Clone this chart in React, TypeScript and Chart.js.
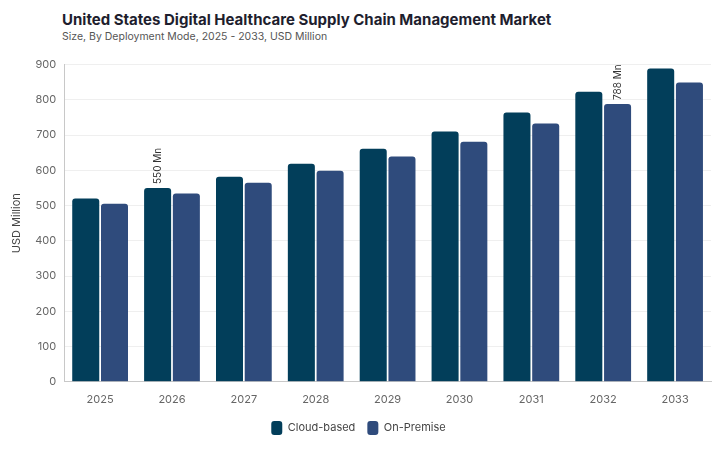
import React, { useEffect, useRef } from 'react';
import { Chart, registerables, Plugin } from 'chart.js';

Chart.register(...registerables);

const years = ['2025', '2026', '2027', '2028', '2029', '2030', '2031', '2032', '2033'];
const cloudBased = [520, 550, 582, 619, 661, 710, 764, 823, 889];
const onPremise = [505, 534, 565, 599, 639, 681, 733, 788, 849];
// which bars carry a value label: [datasetIndex, index]
const labelled: [number, number][] = [
  [0, 1],
  [1, 7],
];

const FONT = 'Inter, "DejaVu Sans", sans-serif';

const barLabels: Plugin<'bar'> = {
  id: 'barLabels',
  afterDatasetsDraw(chart) {
    const ctx = chart.ctx;
    labelled.forEach(([ds, i]) => {
      const bar: any = chart.getDatasetMeta(ds).data[i];
      if (!bar) return;
      const value = chart.data.datasets[ds].data[i] as number;
      ctx.save();
      ctx.translate(bar.x, bar.y - 4);
      ctx.rotate(-Math.PI / 2);
      ctx.font = `10px ${FONT}`;
      ctx.fillStyle = '#333';
      ctx.textAlign = 'left';
      ctx.textBaseline = 'middle';
      ctx.fillText(`${value} Mn`, 0, 0);
      ctx.restore();
    });
  },
};

const App: React.FC = () => {
  const canvasRef = useRef<HTMLCanvasElement | null>(null);

  useEffect(() => {
    const canvas = canvasRef.current;
    if (!canvas) return;

    const chart = new Chart(canvas, {
      type: 'bar',
      data: {
        labels: years,
        datasets: [
          {
            label: 'Cloud-based',
            data: cloudBased,
            backgroundColor: '#023e5a',
            borderRadius: { topLeft: 3, topRight: 3 },
            borderSkipped: 'bottom',
            categoryPercentage: 0.8,
            barPercentage: 0.94,
          },
          {
            label: 'On-Premise',
            data: onPremise,
            backgroundColor: '#2f4b7c',
            borderRadius: { topLeft: 3, topRight: 3 },
            borderSkipped: 'bottom',
            categoryPercentage: 0.8,
            barPercentage: 0.94,
          },
        ],
      },
      options: {
        animation: false,
        responsive: true,
        maintainAspectRatio: false,
        layout: { padding: { top: 8, right: 8, left: 6, bottom: 4 } },
        plugins: {
          tooltip: { enabled: false },
          legend: {
            position: 'bottom',
            labels: {
              boxWidth: 11,
              boxHeight: 14,
              useBorderRadius: true,
              borderRadius: 3,
              padding: 12,
              color: '#444',
              font: { family: FONT, size: 11 },
            },
          },
        },
        scales: {
          x: {
            grid: { display: false },
            border: { color: '#c8c8c8' },
            ticks: { color: '#666', font: { family: FONT, size: 11 }, padding: 3 },
          },
          y: {
            min: 0,
            max: 900,
            ticks: { stepSize: 100, color: '#666', font: { family: FONT, size: 11 }, padding: 8 },
            grid: { color: '#efefef', drawTicks: false },
            border: { color: '#c8c8c8' },
            title: {
              display: true,
              text: 'USD Million',
              color: '#444',
              font: { family: FONT, size: 11 },
            },
          },
        },
      },
      plugins: [barLabels],
    });

    return () => {
      chart.destroy();
    };
  }, []);

  return (
    <div style={{ position: 'fixed', left: 0, top: 0, width: 719, height: 449, background: '#fff', fontFamily: FONT }}>
      <div style={{ position: 'absolute', left: 62, top: 10, fontSize: 15, fontWeight: 700, color: '#1e1e2e' }}>
        United States Digital Healthcare Supply Chain Management Market
      </div>
      <div style={{ position: 'absolute', left: 62, top: 30, fontSize: 10.5, color: '#555' }}>
        Size, By Deployment Mode, 2025 - 2033, USD Million
      </div>
      <div style={{ position: 'absolute', left: 0, top: 50, width: 719, height: 399 }}>
        <canvas ref={canvasRef} />
      </div>
    </div>
  );
};

export default App;
